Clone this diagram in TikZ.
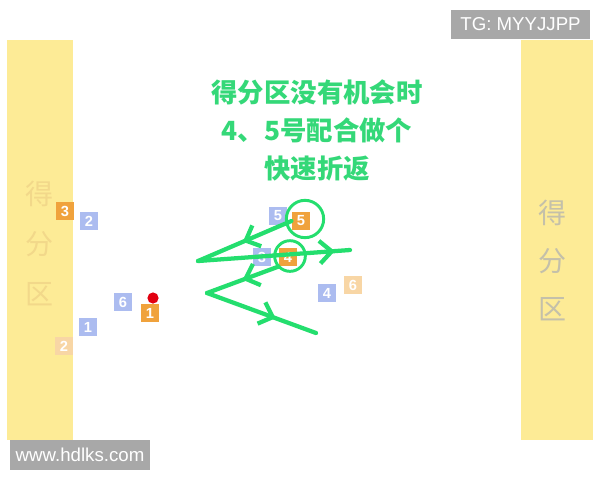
\documentclass[tikz,border=0pt]{standalone}
\usepackage{fontspec}
\setmainfont{Liberation Sans}
\newfontfamily\cjk{Noto Sans CJK SC}
\usetikzlibrary{arrows.meta,decorations.markings}

\definecolor{bandyellow}{RGB}{253,235,150}
\definecolor{fadetext}{RGB}{242,216,138}
\definecolor{zonegray}{RGB}{196,192,170}
\definecolor{tagGray}{RGB}{168,168,168}
\definecolor{runGreen}{RGB}{36,222,110}
\definecolor{titleGreen}{RGB}{52,216,120}
\definecolor{homeOrange}{RGB}{240,162,60}
\definecolor{paleOrange}{RGB}{248,214,165}
\definecolor{awayBlue}{RGB}{172,188,240}
\definecolor{ballRed}{RGB}{226,0,16}

\begin{document}
\begin{tikzpicture}[x=0.75pt,y=-0.75pt,
	box/.style={shape=rectangle,minimum size=14pt,inner sep=0pt,text=white,font=\bfseries\fontsize{11}{11}\selectfont},
	orangebox/.style={box,fill=homeOrange},
	palebox/.style={box,fill=paleOrange},
	bluebox/.style={box,fill=awayBlue},
	ring/.style={shape=circle,draw=runGreen,line width=2.2pt,inner sep=0pt},
	run/.style={draw=runGreen,line width=3.2pt,line cap=round},
	midarrow/.style={postaction={decorate},decoration={markings,
		mark=at position #1 with {\arrow[runGreen]{Straight Barb[length=9pt,width=17pt]}}}},
	tagbox/.style={fill=tagGray,text=white,inner sep=0pt,font=\fontsize{14}{14}\selectfont}]
	
	\useasboundingbox (0, 0) rectangle (600, 480);
	\fill[white] (0, 0) rectangle (600, 480);
	
	% scoring zones
	\fill[bandyellow] (7, 40) rectangle (73, 440);
	\fill[bandyellow] (521, 40) rectangle (593, 440);
	\node[text=fadetext,align=center,font=\cjk\fontsize{21}{37.5}\selectfont] (leftzone) at (39, 243) {得\\分\\区};
	\node[text=zonegray,align=center,font=\cjk\fontsize{21}{36}\selectfont] (rightzone) at (552, 260) {得\\分\\区};
	
	% labels
	\node[tagbox,minimum width=104pt,minimum height=22pt] (tg) at (520.5, 24.5) {TG: MYYJJPP};
	\node[tagbox,minimum width=105pt,minimum height=22pt] (site) at (80, 455) {www.hdlks.com};
	\node[text=titleGreen,align=center,font=\cjk\bfseries\fontsize{19.8}{28.5}\selectfont] (title) at (317, 130)
		{得分区没有机会时\\4、5号配合做个\\快速折返};
	
	% players
	\node[orangebox] (o3) at (65, 211)   {3};
	\node[bluebox]   (b2) at (89, 221)   {2};
	\node[bluebox]   (b6) at (123, 302)  {6};
	\node[orangebox] (o1) at (150, 313)  {1};
	\node[bluebox]   (b1) at (88, 327)   {1};
	\node[palebox]   (o2) at (64, 346)   {2};
	\node[bluebox]   (b5) at (278, 216)  {5};
	\node[orangebox] (o5) at (301, 221)  {5};
	\node[bluebox]   (b3) at (262, 257)  {3};
	\node[orangebox] (o4) at (288, 257)  {4};
	\node[bluebox]   (b4) at (327, 293)  {4};
	\node[palebox]   (o6) at (353, 285)  {6};
	\fill[ballRed] (153, 298) circle (4.2pt);
	
	\node[ring,minimum width=26pt,minimum height=28pt] (c5) at (305, 219) {};
	\node[ring,minimum size=23pt] (c4) at (290, 256) {};
	
	% runs
	\coordinate (turn5) at (198, 261);
	\coordinate (end5)  at (350, 250);
	\coordinate (turn4) at (207, 293);
	\coordinate (end4)  at (316, 333);
	
	\path[run, midarrow=0.52] (o5.west) -- (turn5);
	\path[run, midarrow=0.9] (turn5) -- (end5);
	\path[run, midarrow=0.5] (o4.south west) -- (turn4);
	\path[run, midarrow=0.63] (turn4) -- (end4);
\end{tikzpicture}
\end{document}
